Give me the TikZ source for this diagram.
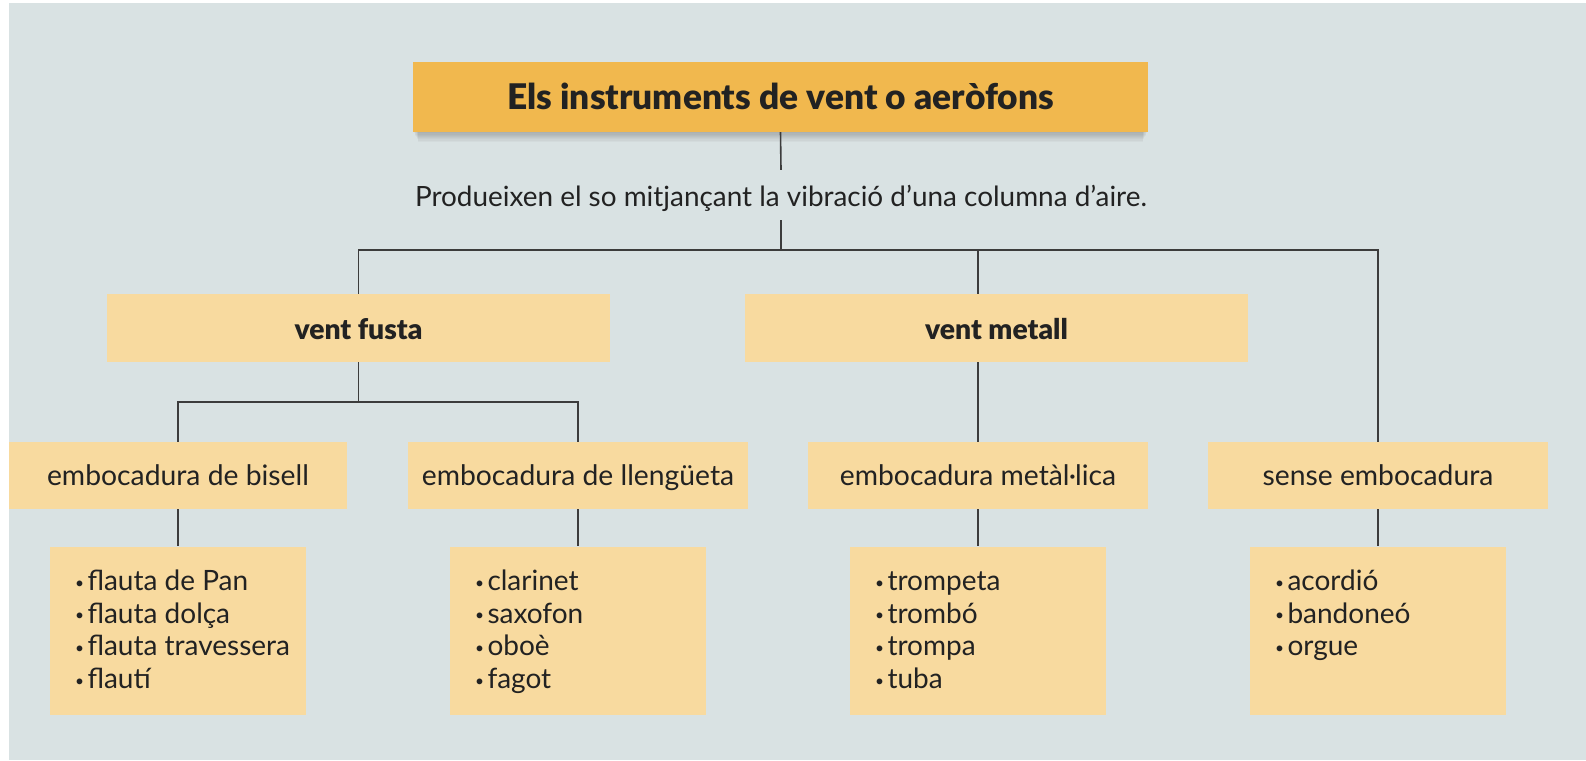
\documentclass[tikz,border=0pt]{standalone}
\usepackage{fontspec}
\setmainfont{Lato}
\newfontfamily\heavyfont{Lato Black}
\definecolor{bg}{HTML}{D9E2E3}
\definecolor{titlefill}{HTML}{F1B84E}
\definecolor{boxfill}{HTML}{F8DA9F}
\definecolor{ink}{HTML}{222222}
\definecolor{wirecol}{HTML}{3C3C3C}
\newcommand\itm{\makebox[12.5pt][l]{\raisebox{2.3pt}{\fontsize{15.5}{15.5}\selectfont\textbullet}}}
\begin{document}
\begin{tikzpicture}[x=1pt,y=-1pt,
  wire/.style={draw=wirecol, line width=1.6pt},
  titlebox/.style={fill=titlefill, inner sep=0pt, minimum width=735pt, minimum height=70pt,
    font=\fontsize{35.3}{41}\heavyfont, text=ink, text height=28pt, text depth=4pt},
  subtext/.style={inner xsep=0pt, inner ysep=12pt, text height=24pt, text depth=2pt,
    font=\fontsize{27.9}{33}\selectfont, text=ink},
  midbox/.style={fill=boxfill, inner sep=0pt, minimum width=503pt, minimum height=68pt,
    font=\fontsize{28.3}{33}\heavyfont, text=ink, text height=27pt, text depth=4pt},
  catbox/.style={fill=boxfill, inner sep=0pt, minimum width=340pt, minimum height=67pt,
    font=\fontsize{28.3}{33}\selectfont, text=ink, text height=24pt, text depth=5pt},
  listbox/.style={fill=boxfill, inner sep=0pt, minimum width=256pt, minimum height=168pt},
  listtext/.style={anchor=north west, inner sep=0pt, align=left,
    font=\fontsize{28}{32.6}\selectfont, text=ink}
]
\useasboundingbox (0,0) rectangle (1586,760);
\fill[white] (0,0) rectangle (1586,760);
\fill[bg] (9,3) rectangle (1586,760);

% soft shadow under the title box
\foreach \k in {1,...,9} {
  \fill[black, opacity=0.028] (413+0.6*\k, 80) rectangle (1148-0.6*\k, 131+1.2*\k);
}

\node[titlebox] (title) at (780.5,97) {Els instruments de vent o aeròfons};
\node[subtext, anchor=base] (sub) at (781,206) {Produeixen el so mitjançant la vibració d’una columna d’aire.};

\node[midbox] (fusta) at (358.5,328) {vent fusta};
\node[midbox] (metall) at (996.5,328) {vent metall};

\node[catbox, minimum width=338pt] (bisell) at (178,475.5) {embocadura de bisell};
\node[catbox] (lleng) at (578,475.5) {embocadura de llengüeta};
\node[catbox] (emet) at (978,475.5) {embocadura metàl·lica};
\node[catbox] (sense) at (1378,475.5) {sense embocadura};

\node[listbox] (l1) at (178,630.5) {};
\node[listbox] (l2) at (578,630.5) {};
\node[listbox] (l3) at (978,630.5) {};
\node[listbox] (l4) at (1378,630.5) {};

\node[listtext] (t1) at ([xshift=25pt]l1.north west) {\rule{0pt}{44pt}\itm flauta de Pan\\ \itm flauta dolça\\ \itm flauta travessera\\ \itm flautí};
\node[listtext] (t2) at ([xshift=25pt]l2.north west) {\rule{0pt}{44pt}\itm clarinet\\ \itm saxofon\\ \itm oboè\\ \itm fagot};
\node[listtext] (t3) at ([xshift=25pt]l3.north west) {\rule{0pt}{44pt}\itm trompeta\\ \itm trombó\\ \itm trompa\\ \itm tuba};
\node[listtext] (t4) at ([xshift=25pt]l4.north west) {\rule{0pt}{44pt}\itm acordió\\ \itm bandoneó\\ \itm orgue};

\coordinate (j1) at (781,250);
\coordinate (j2) at (358.5,402);

\draw[wire] (title.south) -- (sub.north);
\draw[wire] (sub.south) -- (j1);
\draw[wire] (fusta.north) |- (j1) -| (sense.north);
\draw[wire] (emet |- j1) -- (emet |- metall.north);
\draw[wire] (emet |- metall.south) -- (emet.north);
\draw[wire] (fusta.south) -- (j2);
\draw[wire] (bisell.north) |- (j2) -| (lleng.north);
\draw[wire] (bisell.south) -- (l1.north);
\draw[wire] (lleng.south) -- (l2.north);
\draw[wire] (emet.south) -- (l3.north);
\draw[wire] (sense.south) -- (l4.north);
\end{tikzpicture}
\end{document}
